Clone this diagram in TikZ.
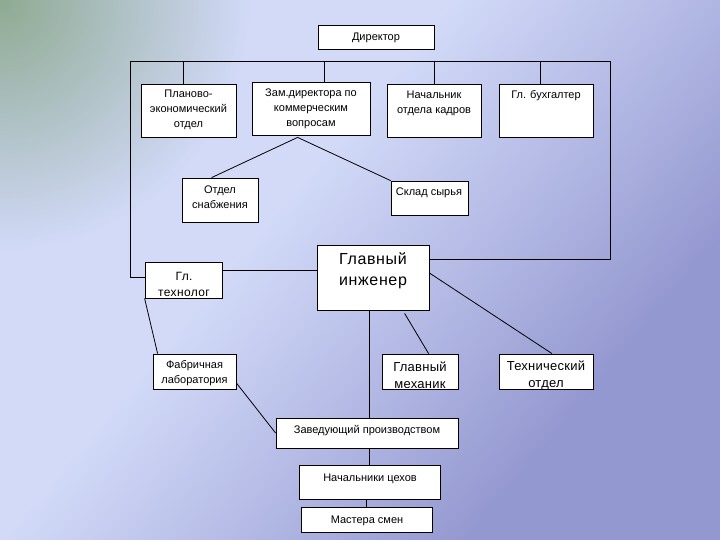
\documentclass[tikz,border=0pt]{standalone}
\usepackage{fontspec}
\setmainfont{Liberation Sans}
\usetikzlibrary{fit,fadings}
\definecolor{bglight}{RGB}{210,218,248}
\definecolor{bgdark}{RGB}{148,152,208}
\definecolor{bggreen}{RGB}{135,165,135}
\pgfdeclarehorizontalshading{bgshade}{100bp}{color(0bp)=(bglight); color(42bp)=(bglight); color(58bp)=(bgdark!55!bglight); color(70bp)=(bgdark); color(100bp)=(bgdark)}
\tikzfading[name=blobfade, inner color=transparent!0, outer color=transparent!100]
\begin{document}
\begin{tikzpicture}[x=1pt,y=-1pt,
  box/.style={draw=black, fill=white, line width=0.8pt, inner sep=0pt},
  txt/.style={font=\fontsize{11}{15}\selectfont, align=center, inner sep=0pt, anchor=center},
  big/.style={font=\fontsize{16}{21}\selectfont\addfontfeatures{LetterSpace=4}, align=center, inner sep=0pt, anchor=center},
  mid/.style={font=\fontsize{13}{17}\selectfont\addfontfeatures{LetterSpace=2}, align=center, inner sep=0pt, anchor=center},
  link/.style={draw=black, line width=0.8pt}]
\useasboundingbox (0,0) rectangle (720,540);
\shade[shading=bgshade, shading angle=-40] (0,0) rectangle (720,540);
\fill[bggreen, path fading=blobfade, opacity=0.9] (0,0) circle (250);

% boxes
\node[box, fit={(318,25) (434,49)}] (dir) {};
\node[box, fit={(141,84) (236,137)}] (plan) {};
\node[box, fit={(252,82) (370,135)}] (zam) {};
\node[box, fit={(387,84) (481,137)}] (kadr) {};
\node[box, fit={(499,84) (593,137)}] (buh) {};
\node[box, fit={(182,178) (258,222)}] (snab) {};
\node[box, fit={(391,181) (468,215)}] (sklad) {};
\node[box, fit={(317,245) (429,310)}] (ing) {};
\node[box, fit={(145,262) (222,298)}] (tech) {};
\node[box, fit={(153,354) (236,389)}] (lab) {};
\node[box, fit={(382,354) (458,389)}] (mech) {};
\node[box, fit={(499,354) (593,389)}] (tot) {};
\node[box, fit={(276,418) (458,448)}] (zav) {};
\node[box, fit={(299,465) (440,499)}] (nach) {};
\node[box, fit={(301,507) (432,532)}] (mast) {};

% bus
\coordinate (bl) at (130,61);
\coordinate (br) at (610,61);
\coordinate (b1) at (183,61);
\coordinate (b2) at (324,61);
\coordinate (b3) at (434,61);
\coordinate (b4) at (540,61);
\coordinate (tl) at ([yshift=3pt]tech.west);
\coordinate (ir) at ([yshift=18.5pt]ing.east);
\draw[link] (tl) -- (tl -| bl) -- (bl) -- (br) -- (br |- ir) -- (ir);
\draw[link] (b1) -- (b1 |- plan.north);
\draw[link] (b2) -- (b2 |- zam.north);
\draw[link] (b3) -- (b3 |- kadr.north);
\draw[link] (b4) -- (b4 |- buh.north);

% other connectors
\coordinate (zs) at ([xshift=46pt,yshift=-2pt]zam.south west);
\draw[link] (zs) -- ([xshift=30pt]snab.north west);
\draw[link] (zs) -- (sklad.north west);
\coordinate (t1) at ([yshift=10pt]tech.east);
\draw[link] (t1) -- (t1 -| ing.west);
\draw[link] ([yshift=4.5pt]ing.east) -- ([xshift=6pt]tot.north);
\draw[link] ([xshift=88pt,yshift=-3pt]ing.south west) -- ([xshift=47pt]mech.north west);
\coordinate (iv) at ([xshift=53pt]ing.south west);
\draw[link] (iv) -- (iv |- zav.north);
\draw[link] (nach.north) -- (nach.north |- zav.south);
\draw[link] (mast.north) -- (mast.north |- nach.south);
\draw[link] (tech.south west) -- ([xshift=5pt]lab.north west);
\draw[link] ([yshift=-11.5pt]lab.east) -- (zav.west);

% texts
\node[txt] (tdir) at (376,38) {Директор};
\node[txt] (tplan) at (188.5,110) {Планово-\\экономический\\отдел};
\node[txt] (tzam) at (311,108.5) {Зам.директора по\\коммерческим\\вопросам};
\node[txt] (tkadr) at (434,103.5) {Начальник\\отдела кадров};
\node[txt] (tbuh) at (546,96) {Гл. бухгалтер};
\node[txt] (tsnab) at (220,197.5) {Отдел\\снабжения};
\node[txt] (tsklad) at (429,193) {Склад сырья};
\node[big] (ting) at (373,271) {Главный\\инженер};
\node[txt, font=\fontsize{12}{16}\selectfont\addfontfeatures{LetterSpace=3}] (ttech) at (184,284) {Гл.\\технолог};
\node[txt] (tlab) at (194.5,373.5) {Фабричная\\лаборатория};
\node[mid] (tmech) at (420,375) {Главный\\механик};
\node[mid] (ttot) at (546,375) {Технический\\отдел};
\node[txt] (tzav) at (367,431) {Заведующий производством};
\node[txt] (tnach) at (370,479) {Начальники цехов};
\node[txt] (tmast) at (367,521) {Мастера смен};
\end{tikzpicture}
\end{document}
